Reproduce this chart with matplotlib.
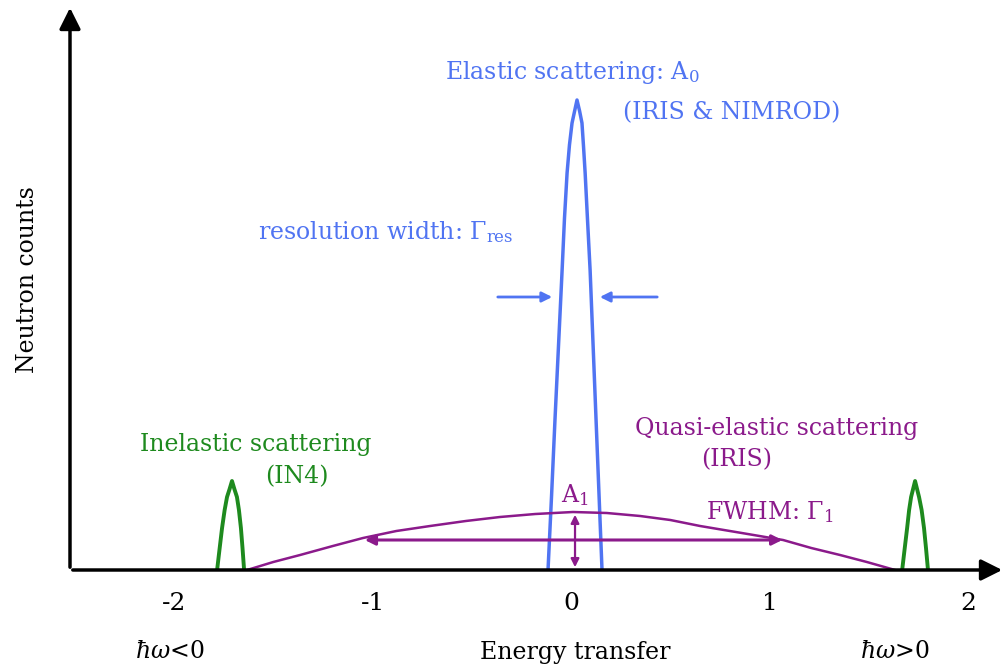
import matplotlib
matplotlib.use("Agg")
import matplotlib.pyplot as plt

plt.rcParams['font.family'] = ['DejaVu Serif']
plt.rcParams['mathtext.fontset'] = 'dejavuserif'

# peak outlines (energy transfer, counts)
elastic_x = [-0.116, -0.098, -0.081, -0.063, -0.045, -0.033, -0.020, -0.008, 0.005, 0.018, 0.030,
             0.043, 0.055, 0.063, 0.071, 0.083, 0.096, 0.111, 0.126, 0.141, 0.156]
elastic_y = [0, 75, 150, 225, 300, 352, 397, 425, 447, 459, 470,
             459, 447, 423, 397, 350, 300, 225, 150, 75, 0]

quasi_x = [-1.632, -1.500, -1.365, -1.200, -1.048, -0.880, -0.710, -0.530, -0.358, -0.180, 0.010,
           0.180, 0.348, 0.500, 0.650, 0.860, 1.068, 1.210, 1.355, 1.490, 1.632]
quasi_y = [0, 8, 15, 24, 32, 39, 44, 49, 53, 56, 58,
           57, 54, 50, 44, 37, 30, 22, 15, 8, 0]

inel_left_x = [-1.783, -1.770, -1.758, -1.745, -1.733, -1.720, -1.708, -1.696, -1.683, -1.673, -1.663, -1.655, -1.647]
inel_right_x = [1.668, 1.681, 1.693, 1.703, 1.713, 1.723, 1.733, 1.743, 1.753, 1.766, 1.778, 1.788, 1.798]
inel_y = [0, 22, 42, 60, 73, 81, 89, 81, 73, 60, 42, 22, 0]

ticks = [-2, -1, 0, 1, 2]
tick_labels = ["-2", "-1", "0", "1", "2"]

fwhm_x = [-1.053, 1.078]
fwhm_y = 30
a1_x = 0.020
a1_top = 58
res_left = [-0.383, -0.081]
res_right = [0.448, 0.131]
res_y = 273

blue = '#5074f2'
green = '#1e8a1e'
purple = '#8b1a8b'

fig = plt.figure(figsize=(10.07, 6.70), dpi=100)
ax = fig.add_axes([70/1007, 100/670, 935/1007, 565/670])
ax.set_xlim(-2.524, 2.186)
ax.set_ylim(0, 565)
for s in ax.spines.values():
    s.set_visible(False)
ax.set_yticks([])
ax.set_xticks(ticks)
ax.set_xticklabels(tick_labels, fontsize=18)
ax.tick_params(axis='x', length=0, pad=16)

# axis arrows
ax.annotate('', xy=(1, 0), xytext=(0, 0), xycoords='axes fraction',
            arrowprops=dict(arrowstyle='-|>', lw=2.5, color='black', mutation_scale=32))
ax.annotate('', xy=(0, 1), xytext=(0, 0), xycoords='axes fraction',
            arrowprops=dict(arrowstyle='-|>', lw=2.5, color='black', mutation_scale=32))

ax.plot(elastic_x, elastic_y, color=blue, lw=2.5)
ax.plot(quasi_x, quasi_y, color=purple, lw=1.8)
ax.plot(inel_left_x, inel_y, color=green, lw=2.8)
ax.plot(inel_right_x, inel_y, color=green, lw=2.8)

# width / height markers
ax.annotate('', xy=(fwhm_x[0], fwhm_y), xytext=(fwhm_x[1], fwhm_y),
            arrowprops=dict(arrowstyle='<|-|>', lw=2.2, color=purple, mutation_scale=15))
ax.annotate('', xy=(a1_x, 0), xytext=(a1_x, a1_top),
            arrowprops=dict(arrowstyle='<|-|>', lw=1.6, color=purple, mutation_scale=12))
ax.annotate('', xy=(res_left[1], res_y), xytext=(res_left[0], res_y),
            arrowprops=dict(arrowstyle='-|>', lw=2, color=blue, mutation_scale=15))
ax.annotate('', xy=(res_right[1], res_y), xytext=(res_right[0], res_y),
            arrowprops=dict(arrowstyle='-|>', lw=2, color=blue, mutation_scale=15))

fs = 17
ax.text(0.005, 497, 'Elastic scattering: A$_0$', color=blue, fontsize=fs, ha='center', va='center')
ax.text(0.811, 457, '(IRIS & NIMROD)', color=blue, fontsize=fs, ha='center', va='center')
ax.text(-0.932, 338, r'resolution width: $\Gamma_{\rm res}$', color=blue, fontsize=fs, ha='center', va='center')
ax.text(-1.587, 125, 'Inelastic scattering', color=green, fontsize=fs, ha='center', va='center')
ax.text(-1.380, 93, '(IN4)', color=green, fontsize=fs, ha='center', va='center')
ax.text(1.038, 142, 'Quasi-elastic scattering', color=purple, fontsize=fs, ha='center', va='center')
ax.text(0.835, 110, '(IRIS)', color=purple, fontsize=fs, ha='center', va='center')
ax.text(0.020, 75, 'A$_1$', color=purple, fontsize=fs, ha='center', va='center')
ax.text(1.002, 58, r'FWHM: $\Gamma_1$', color=purple, fontsize=fs, ha='center', va='center')

ax.text(-2.020, -82, r'$\hbar\omega$<0', fontsize=fs, ha='center', va='center')
ax.text(0.020, -82, 'Energy transfer', fontsize=fs, ha='center', va='center')
ax.text(1.632, -82, r'$\hbar\omega$>0', fontsize=fs, ha='center', va='center')
ax.text(-2.740, 290, 'Neutron counts', fontsize=fs, ha='center', va='center', rotation=90)

fig.savefig('out.png', dpi=100)
